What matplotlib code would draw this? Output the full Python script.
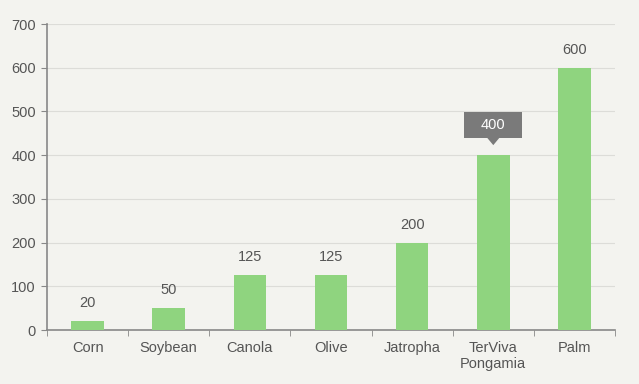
import matplotlib
matplotlib.use("Agg")
import matplotlib.pyplot as plt
from matplotlib.patches import Rectangle, Polygon
import numpy as np

categories = ["Corn", "Soybean", "Canola", "Olive", "Jatropha", "TerViva\nPongamia", "Palm"]
values = [20, 50, 125, 125, 200, 400, 600]
highlight = "TerViva\nPongamia"
yticks = [0, 100, 200, 300, 400, 500, 600, 700]

bg = "#f3f3ef"
txt = "#555555"
fnt = "Liberation Sans"
fig = plt.figure(figsize=(6.39, 3.84), dpi=100, facecolor=bg)
ax = fig.add_axes([47/639, 1-330/384, (615-47)/639, (330-24)/384], facecolor=bg)

x = np.arange(len(categories))
ax.bar(x, values, width=0.4, color="#8fd47f", zorder=3)
ax.set_xlim(-0.5, len(categories)-0.5)
ax.set_ylim(0, 700)
ax.set_yticks(yticks)
ax.set_yticklabels([str(v) for v in yticks], fontsize=10.5, color=txt, family=fnt)
ax.grid(axis="y", color="#dcdcd8", linewidth=0.8, zorder=0)
ax.set_xticks(x)
ax.set_xticklabels(categories, fontsize=10.5, color=txt, family=fnt, linespacing=1.15)
ax.tick_params(axis="x", length=0, pad=8)
ax.set_xticks(np.arange(-0.5, len(categories)), minor=True)
ax.tick_params(axis="x", which="minor", length=4, color="#888888", direction="out")
ax.tick_params(axis="y", length=4, color="#888888", pad=4)
for s in ["top", "right"]:
    ax.spines[s].set_visible(False)
for s in ["left", "bottom"]:
    ax.spines[s].set_color("#888888")
    ax.spines[s].set_linewidth(1.2)

ypx = 700 / 306.0  # data units per pixel
xpx = 1 / 81.0
for xi, v, c in zip(x, values, categories):
    if c == highlight:
        b0 = v + 17 * ypx
        h = 26 * ypx
        w = 58 * xpx
        ax.add_patch(Rectangle((xi - w/2, b0), w, h, fc="#7a7a7a", ec="none", zorder=5))
        ax.add_patch(Polygon([[xi - 6*xpx, b0 + 0.5], [xi + 6*xpx, b0 + 0.5], [xi, v + 10*ypx]],
                             closed=True, fc="#7a7a7a", ec="none", zorder=5))
        ax.text(xi, b0 + h/2, str(v), ha="center", va="center", fontsize=10.5,
                color="white", family=fnt, zorder=6)
    else:
        ax.annotate(str(v), (xi, v), xytext=(0, 13), textcoords="offset points",
                    ha="center", va="center", fontsize=10.5, color=txt, family=fnt)

fig.savefig("out.png", dpi=100, facecolor=bg)
